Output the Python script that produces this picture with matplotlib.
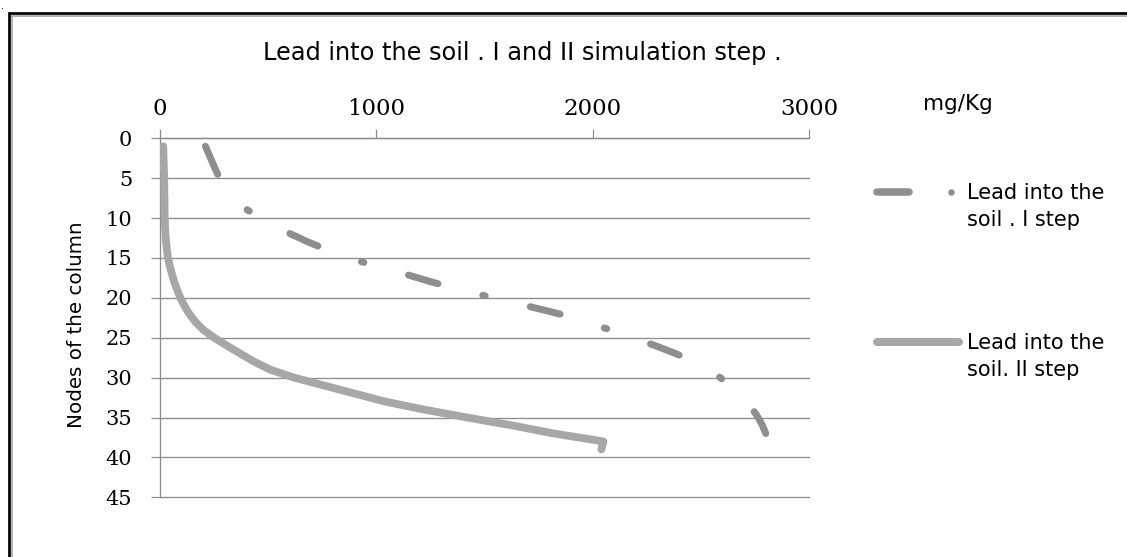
import matplotlib
matplotlib.use("Agg")
import matplotlib.pyplot as plt
from matplotlib.lines import Line2D

# ---------------- data ----------------
nodes_step1 = list(range(1, 38))
lead_step1 = [210, 226, 242, 258, 275, 300, 330, 365, 405, 470,
              535, 605, 685, 775, 875, 995, 1130, 1255, 1390, 1540,
              1695, 1845, 1965, 2080, 2190, 2290, 2385, 2470, 2535, 2590,
              2630, 2670, 2705, 2740, 2765, 2785, 2800]

nodes_step2 = list(range(1, 40))
lead_step2 = [15, 16, 17, 18, 19, 20, 20, 21, 21, 22,
              23, 25, 28, 32, 37, 45, 55, 66, 79, 94,
              113, 135, 163, 200, 250, 310, 372, 435, 510, 620,
              760, 900, 1040, 1220, 1420, 1630, 1820, 2050, 2040]

x_ticks = [0, 1000, 2000, 3000]
x_tick_labels = ["0", "1000", "2000", "3000"]
y_ticks = [0, 5, 10, 15, 20, 25, 30, 35, 40, 45]
y_tick_labels = [str(v) for v in y_ticks]

title = "Lead into the soil . I and II simulation step ."
x_unit = "mg/Kg"
y_label = "Nodes of the column"
label_step1 = ["Lead into the", "soil . I step"]
label_step2 = ["Lead into the", "soil. II step"]

# ---------------- style ----------------
plt.rcParams["font.family"] = ["DejaVu Sans"]
plt.rcParams["lines.scale_dashes"] = False

W, H = 1127, 557
PX = 72.0 / 100.0  # points per pixel at dpi 100


def fx(px):
    return px / W


def fy(py):
    return 1 - py / H


c1 = "#8e8e8e"
c2 = "#a7a7a7"
grid_c = "#8c8c8c"

fig = plt.figure(figsize=(W / 100, H / 100), dpi=100)
fig.patch.set_facecolor("white")

ax = fig.add_axes([fx(160), fy(497.3), (809 - 160) / W, (497.3 - 138.3) / H])
ax.set_xlim(0, 3000)
ax.set_ylim(45, 0)

# series I : dash - dot pattern
l1, = ax.plot(lead_step1, nodes_step1, color=c1, lw=7 * PX,
              solid_capstyle="round", dash_capstyle="round", zorder=3)
l1.set_dashes([30.7 * PX, 46.3 * PX, 2.5 * PX, 46.4 * PX])

# series II : solid
ax.plot(lead_step2, nodes_step2, color=c2, lw=7.8 * PX,
        solid_capstyle="round", solid_joinstyle="round", zorder=3)

# axes styling
ax.xaxis.tick_top()
ax.set_xticks(x_ticks)
ax.set_xticklabels(x_tick_labels, fontfamily="DejaVu Serif", fontsize=16.5)
ax.set_yticks(y_ticks)
ax.set_yticklabels(y_tick_labels, fontfamily="DejaVu Serif", fontsize=15)
ax.tick_params(axis="x", top=True, bottom=False, labeltop=True,
               labelbottom=False, direction="out", length=8.7 * PX,
               width=1.2 * PX, color=grid_c, pad=7)
ax.tick_params(axis="y", left=True, direction="out", length=9 * PX,
               width=1.2 * PX, color=grid_c, pad=13.5)
ax.yaxis.grid(True, color=grid_c, lw=1.3 * PX)
ax.xaxis.grid(False)
ax.set_axisbelow(True)
for gl in ax.yaxis.get_gridlines():
    gl.set_clip_on(False)
for s in ["right", "bottom"]:
    ax.spines[s].set_visible(False)
for s in ["left", "top"]:
    ax.spines[s].set_color(grid_c)
    ax.spines[s].set_linewidth(1.3 * PX)

ax.set_ylabel(y_label, fontsize=14.3, va="center")
ax.yaxis.set_label_coords((77 - 160) / 649, (497.3 - 325) / 359)

fig.suptitle(title, x=fx(522), y=fy(60), va="baseline", ha="center",
             fontsize=17.3)
fig.text(fx(923), fy(110), x_unit, ha="left", va="baseline", fontsize=15.5)

# legend (drawn by hand to keep the first-line alignment of the reference)
tf = fig.transFigure
fig.add_artist(Line2D([fx(876.5), fx(909.5)], [fy(191.7), fy(191.7)],
                      color=c1, lw=7.5 * PX, solid_capstyle="round",
                      transform=tf))
fig.add_artist(Line2D([fx(951)], [fy(191.7)], color=c1, lw=0, marker="o",
                      markersize=6.5 * PX, markeredgewidth=0, transform=tf))
fig.add_artist(Line2D([fx(876.5), fx(958.5)], [fy(341.7), fy(341.7)],
                      color=c2, lw=8 * PX, solid_capstyle="round",
                      transform=tf))
for (lines, y0) in [(label_step1, 199), (label_step2, 349)]:
    for i, t in enumerate(lines):
        fig.text(fx(967), fy(y0 + i * 26.7), t, ha="left", va="baseline",
                 fontsize=15)

# outer frame (cut at right and bottom in the reference)
fig.add_artist(Line2D([fx(8.7), fx(8.7), 1.0], [0, fy(12.8), fy(12.8)],
                      color="black", lw=2.7 * PX, transform=tf,
                      solid_joinstyle="miter"))
fig.add_artist(Line2D([fx(11.9), fx(11.9), 1.0], [0, fy(15.6), fy(15.6)],
                      color="#9a9a9a", lw=1.5 * PX, transform=tf,
                      solid_joinstyle="miter"))
fig.text(fx(1.5), fy(9), ".", ha="left", va="baseline", fontsize=7)

fig.savefig("out.png", dpi=100, facecolor="white")
